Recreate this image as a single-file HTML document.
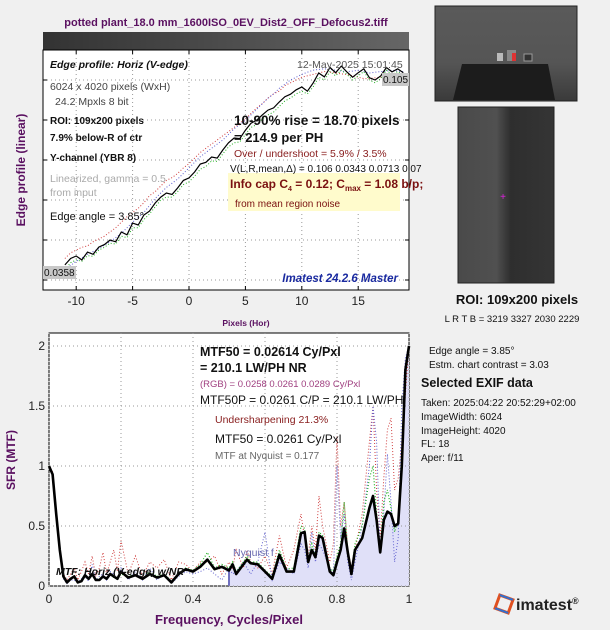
<!DOCTYPE html>
<html><head><meta charset="utf-8">
<style>
body{margin:0;background:#f0f0f0;width:610px;height:630px;overflow:hidden;font-family:"Liberation Sans",sans-serif;}
svg{position:absolute;left:0;top:0}
</style></head>
<body>
<svg id="s" width="610" height="630" xmlns="http://www.w3.org/2000/svg" font-family="Liberation Sans, sans-serif">
<defs>
<linearGradient id="gbar" x1="0" x2="1"><stop offset="0" stop-color="#333"/><stop offset="1" stop-color="#666"/></linearGradient>
<linearGradient id="groi" x1="0" x2="1"><stop offset="0" stop-color="#4a4a4a"/><stop offset="0.4" stop-color="#505050"/><stop offset="0.55" stop-color="#2e2e2e"/><stop offset="1" stop-color="#353535"/></linearGradient>
<linearGradient id="gimg" x1="0" y1="0" x2="0" y2="1"><stop offset="0" stop-color="#5a5a5a"/><stop offset="0.6" stop-color="#555"/><stop offset="1" stop-color="#3a3a3a"/></linearGradient>
</defs>
<text x="226" y="26" font-size="11" font-weight="bold" fill="#5a1060" text-anchor="middle">potted plant_18.0 mm_1600ISO_0EV_Dist2_OFF_Defocus2.tiff</text>
<rect x="43" y="32" width="366" height="18" fill="url(#gbar)"/>
<g id="p1"></g>
<g id="p2"></g>
<!-- right side -->
<rect x="435" y="6" width="142" height="95" fill="url(#gimg)" stroke="#222"/>
<path d="M462 64 L548 64 L555 100 L453 100 Z" fill="#1c1c1c"/>
<rect x="507" y="50" width="9" height="11" fill="#888"/><rect x="512" y="53" width="4" height="8" fill="#d33"/><rect x="497" y="53" width="6" height="8" fill="#bbb"/><rect x="524" y="54" width="8" height="7" fill="#333" stroke="#999"/>
<rect x="458" y="107" width="96" height="176" fill="url(#groi)" stroke="#222"/>
<text x="503" y="200" font-size="10" fill="#e020e0" text-anchor="middle">+</text>
<text x="517" y="304" font-size="13" font-weight="bold" fill="#111" text-anchor="middle">ROI:  109x200 pixels</text>
<text x="512" y="322" font-size="9.5" fill="#111" text-anchor="middle">L R  T B = 3219 3327  2030 2229</text>
<g font-size="10" fill="#111">
<text x="429" y="354">Edge angle = 3.85°</text>
<text x="429" y="368">Estm. chart contrast = 3.03</text>
<text x="421" y="387" font-size="12.5" font-weight="bold">Selected EXIF data</text>
<text x="421" y="406">Taken: 2025:04:22 20:52:29+02:00</text>
<text x="421" y="420">ImageWidth:  6024</text>
<text x="421" y="434">ImageHeight:  4020</text>
<text x="421" y="447">FL:    18</text>
<text x="421" y="461">Aper:  f/11</text>
</g>
<g>
<rect x="497" y="597" width="14" height="14" fill="none" stroke="#e05020" stroke-width="3" transform="rotate(20 504 604)"/>
<rect x="497" y="597" width="14" height="14" fill="none" stroke="#3070d0" stroke-width="2" stroke-dasharray="14 14" transform="rotate(20 504 604)"/>
<text x="516" y="610" font-size="16" font-weight="bold" fill="#222">imatest<tspan font-size="9" dy="-6">®</tspan></text>
</g>
</svg>
<script>
const NS='http://www.w3.org/2000/svg';
function mk(p,tag,a,txt){const e=document.createElementNS(NS,tag);for(const k in a)e.setAttribute(k,a[k]);if(txt!==undefined)e.textContent=txt;p.appendChild(e);return e;}

// ---- Edge profile data ----
const edgeX=[-11,-10.5,-10,-9.5,-9,-8.5,-8,-7.5,-7,-6.5,-6,-5.5,-5,-4.5,-4,-3.5,-3,-2.5,-2,-1.5,-1,-0.5,0,0.5,1,1.5,2,2.5,3,3.5,4,4.5,5,5.5,6,6.5,7,7.5,8,8.5,9,9.5,10,10.5,11,11.5,12,12.5,13,13.5,14,14.5,15,15.5,16,16.5,17,17.5,18,18.5,19];
const edgeY=[0.0387,0.0410,0.0419,0.0405,0.0433,0.0425,0.0451,0.0460,0.0476,0.0470,0.0505,0.0495,0.0537,0.0530,0.0566,0.0580,0.0609,0.0630,0.0645,0.0640,0.0663,0.0690,0.0699,0.0720,0.0749,0.0755,0.0774,0.0770,0.0799,0.0825,0.0842,0.0840,0.0870,0.0895,0.0906,0.0925,0.0942,0.0950,0.0971,0.0990,0.0999,0.1015,0.1025,0.1010,0.1039,0.1075,0.1061,0.1095,0.1076,0.1100,0.1079,0.1060,0.1076,0.1090,0.1058,0.1050,0.1065,0.1095,0.1079,0.1090,0.1076];
const edgeR=[0.0410,0.0430,0.0440,0.0450,0.0455,0.0470,0.0480,0.0490,0.0505,0.0520,0.0540,0.0560,0.0575,0.0590,0.0610,0.0635,0.0650,0.0670,0.0690,0.0700,0.0715,0.0735,0.0750,0.0770,0.0790,0.0805,0.0820,0.0835,0.0850,0.0865,0.0880,0.0895,0.0910,0.0930,0.0950,0.0965,0.0985,0.1000,0.1010,0.1030,0.1040,0.1050,0.1060,0.1065,0.1070,0.1075,0.1080,0.1078,0.1075,0.1072,0.1070,0.1065,0.1060,0.1055,0.1055,0.1058,0.1060,0.1062,0.1065,0.1068,0.1070];
const edgeB=[0.0370,0.0385,0.0400,0.0412,0.0425,0.0435,0.0445,0.0458,0.0470,0.0485,0.0500,0.0520,0.0540,0.0558,0.0575,0.0600,0.0625,0.0645,0.0665,0.0680,0.0695,0.0715,0.0735,0.0755,0.0775,0.0790,0.0805,0.0820,0.0835,0.0855,0.0875,0.0890,0.0905,0.0925,0.0945,0.0965,0.0985,0.1000,0.1020,0.1035,0.1050,0.1060,0.1070,0.1078,0.1085,0.1088,0.1090,0.1088,0.1085,0.1082,0.1080,0.1082,0.1085,0.1080,0.1075,0.1078,0.1080,0.1082,0.1085,0.1082,0.1080];
const edgeG=[0.0370,0.0395,0.0405,0.0400,0.0420,0.0418,0.0440,0.0450,0.0465,0.0462,0.0490,0.0485,0.0520,0.0520,0.0550,0.0570,0.0595,0.0620,0.0630,0.0630,0.0650,0.0675,0.0685,0.0705,0.0730,0.0740,0.0760,0.0758,0.0785,0.0810,0.0825,0.0828,0.0855,0.0880,0.0890,0.0910,0.0925,0.0935,0.0955,0.0975,0.0985,0.1000,0.1010,0.1000,0.1025,0.1060,0.1050,0.1080,0.1065,0.1085,0.1070,0.1050,0.1065,0.1080,0.1050,0.1040,0.1055,0.1085,0.1070,0.1080,0.1068];
const edgeTicks=[-10,-5,0,5,10,15];

// ---- MTF data ----
const mtfF=[0,0.01,0.02,0.03,0.04,0.05,0.06,0.07,0.08,0.09,0.10,0.11,0.12,0.13,0.14,0.15,0.16,0.17,0.18,0.19,0.20,0.22,0.24,0.26,0.28,0.30,0.32,0.34,0.36,0.38,0.40,0.42,0.44,0.46,0.48,0.50,0.51,0.52,0.54,0.55,0.56,0.58,0.60,0.62,0.64,0.66,0.68,0.70,0.71,0.72,0.73,0.74,0.75,0.76,0.78,0.79,0.80,0.81,0.82,0.83,0.84,0.85,0.87,0.89,0.90,0.91,0.92,0.93,0.94,0.95,0.96,0.97,0.98,0.99,1.0];
const mtfY=[1.0,0.93,0.6,0.3,0.08,0.03,0.06,0.08,0.03,0.04,0.09,0.06,0.1,0.05,0.05,0.08,0.06,0.1,0.08,0.06,0.12,0.07,0.09,0.06,0.1,0.07,0.09,0.03,0.1,0.14,0.12,0.16,0.22,0.14,0.16,0.13,0.18,0.1,0.18,0.22,0.19,0.18,0.12,0.06,0.26,0.12,0.12,0.44,0.45,0.2,0.3,0.24,0.42,0.4,0.12,0.09,0.2,0.3,0.48,0.28,0.1,0.3,0.4,0.65,0.75,0.55,0.28,0.55,0.62,0.6,0.5,0.52,1.0,1.8,2.0];
const mtfR=[1.0,0.95,0.62,0.3,0.1,0.05,0.1,0.15,0.05,0.12,0.2,0.1,0.25,0.08,0.15,0.28,0.1,0.2,0.3,0.12,0.38,0.1,0.25,0.08,0.2,0.15,0.22,0.05,0.2,0.18,0.12,0.2,0.2,0.25,0.1,0.2,0.15,0.3,0.15,0.3,0.2,0.15,0.25,0.1,0.42,0.15,0.3,0.6,0.4,0.25,0.5,0.3,0.75,0.5,0.2,0.35,1.25,0.5,0.7,0.3,0.15,0.3,0.6,1.2,1.5,0.8,0.4,0.9,1.3,1.4,0.8,0.9,1.2,1.6,2.0];
const mtfB=[1.0,0.92,0.58,0.28,0.06,0.02,0.05,0.05,0.03,0.06,0.08,0.04,0.18,0.05,0.08,0.1,0.05,0.12,0.1,0.05,0.15,0.05,0.12,0.05,0.15,0.05,0.1,0.02,0.08,0.12,0.1,0.12,0.15,0.1,0.05,0.15,0.1,0.12,0.2,0.15,0.1,0.2,0.45,0.05,0.2,0.15,0.1,0.35,0.3,0.15,0.45,0.2,0.35,0.3,0.15,0.1,1.0,0.4,0.6,0.2,0.05,0.2,0.5,1.0,1.5,1.2,0.3,0.6,1.1,0.7,0.2,0.4,1.5,1.9,2.0];
const mtfG=[1.0,0.93,0.6,0.3,0.07,0.03,0.06,0.07,0.03,0.05,0.08,0.06,0.1,0.05,0.06,0.08,0.06,0.1,0.07,0.06,0.1,0.08,0.1,0.06,0.12,0.08,0.1,0.04,0.1,0.15,0.13,0.18,0.28,0.15,0.18,0.15,0.2,0.12,0.2,0.25,0.2,0.2,0.13,0.08,0.3,0.14,0.15,0.5,0.48,0.22,0.35,0.25,0.45,0.42,0.15,0.12,0.25,0.35,0.7,0.3,0.12,0.35,0.5,0.9,1.0,0.6,0.3,0.7,0.8,0.65,0.45,0.55,1.1,1.8,2.0];
const mtfXTicks=[0,0.2,0.4,0.6,0.8,1];
const mtfXLabels=['0','0.2','0.4','0.6','0.8','1'];
const mtfYTicks=[0,0.5,1,1.5,2];
const mtfYLabels=['0','0.5','1','1.5','2'];

// ---- Edge plot ----
const p1=document.getElementById('p1');
const L1=43,R1=409,T1=50,B1=290;
const ex=v=>189+v*11.28;
const ey=v=>273-(v-0.0358)*2789;
mk(p1,'rect',{x:L1,y:T1,width:R1-L1,height:B1-T1,fill:'#fff',stroke:'#000'});
edgeTicks.forEach(t=>{mk(p1,'line',{x1:ex(t),x2:ex(t),y1:T1,y2:B1,stroke:'#999','stroke-dasharray':'1 3'});
 mk(p1,'line',{x1:ex(t),x2:ex(t),y1:B1,y2:B1-4,stroke:'#000'});mk(p1,'line',{x1:ex(t),x2:ex(t),y1:T1,y2:T1+4,stroke:'#000'});
 const tl=mk(p1,'text',{x:ex(t),y:B1+15,'font-size':12,fill:'#222','text-anchor':'middle'},String(t));
 });
[80,120,160,200,240,280].forEach(y=>{mk(p1,'line',{x1:L1,x2:R1,y1:y,y2:y,stroke:'#999','stroke-dasharray':'1 3'});
 mk(p1,'line',{x1:L1,x2:L1+4,y1:y,y2:y,stroke:'#000'});mk(p1,'line',{x1:R1,x2:R1-4,y1:y,y2:y,stroke:'#000'});});
function line(p,xs,ys,fx,fy,st){const d=xs.map((x,i)=>(i?'L':'M')+fx(x).toFixed(1)+' '+fy(ys[i]).toFixed(1)).join(' ');return mk(p,'path',Object.assign({d:d,fill:'none'},st));}
let s;
s=line(p1,edgeX,edgeR,ex,ey,{stroke:'#d04040','stroke-width':1,'stroke-dasharray':'1 2'});
s=line(p1,edgeX,edgeB,ex,ey,{stroke:'#6060d0','stroke-width':1,'stroke-dasharray':'1 2'});
s=line(p1,edgeX,edgeG,ex,ey,{stroke:'#20b020','stroke-width':1,'stroke-dasharray':'1 2'});
s=line(p1,edgeX,edgeY,ex,ey,{stroke:'#000','stroke-width':1.2});
mk(p1,'rect',{x:43,y:266,width:33,height:13,fill:'#c8c8c8'});
mk(p1,'text',{x:44,y:276,'font-size':10,fill:'#111'},'0.0358');
mk(p1,'rect',{x:382,y:73,width:27,height:13,fill:'#c8c8c8'});
mk(p1,'text',{x:383,y:83,'font-size':10,fill:'#111'},'0.105');
const t1=[[50,68,'Edge profile: Horiz (V-edge)',{'font-weight':'bold','font-style':'italic','font-size':10.5}],
[50,90,'6024 x 4020 pixels (WxH)',{fill:'#444','font-size':10.5}],[55,105,'24.2 Mpxls   8 bit',{fill:'#444','font-size':10.5}],
[50,124,'ROI:  109x200 pixels',{'font-weight':'bold'}],[50,141,'7.9% below-R of ctr',{'font-weight':'bold'}],
[50,161,'Y-channel  (YBR 8)',{'font-weight':'bold'}],[50,182,'Linearized, gamma = 0.5',{fill:'#aaa','font-size':10.5}],[50,196,'from input',{fill:'#aaa','font-size':10.5}],
[50,220,'Edge angle = 3.85°',{fill:'#111','font-size':11}],[297,68,'12-May-2025 15:01:45',{fill:'#555','font-size':10.5}]];
t1.forEach(a=>mk(p1,'text',Object.assign({x:a[0],y:a[1],'font-size':10,fill:'#111'},a[3]),a[2]));
mk(p1,'rect',{x:228,y:173,width:172,height:38,fill:'#fffbcc'});
mk(p1,'text',{x:234,y:125,'font-size':13.5,'font-weight':'bold',fill:'#111'},'10-90% rise = 18.70 pixels');
mk(p1,'text',{x:234,y:142,'font-size':13,'font-weight':'bold',fill:'#111'},'= 214.9 per PH');
mk(p1,'text',{x:234,y:157,'font-size':10.5,fill:'#8a2020'},'Over / undershoot =  5.9% /  3.5%');
mk(p1,'text',{x:230,y:172,'font-size':10,fill:'#111'},'V(L,R,mean,Δ) = 0.106  0.0343  0.0713  0.07');
const ic=mk(p1,'text',{x:230,y:188,'font-size':12,'font-weight':'bold',fill:'#7a1010'});ic.innerHTML='Info cap C<tspan font-size="7" dy="3">4</tspan><tspan dy="-3"> = 0.12;  C</tspan><tspan font-size="8" dy="3">max</tspan><tspan dy="-3"> = 1.08 b/p;</tspan>';
mk(p1,'text',{x:235,y:207,'font-size':10,fill:'#7a1010'},'from mean region noise');
mk(p1,'text',{x:398,y:282,'font-size':11.5,'font-weight':'bold','font-style':'italic',fill:'#1a2aa0','text-anchor':'end'},'Imatest 24.2.6 Master');
mk(p1,'text',{x:246,y:326,'font-size':8.5,'font-weight':'bold',fill:'#5a1060','text-anchor':'middle'},'Pixels (Hor)');
mk(p1,'text',{x:0,y:0,'font-size':12,'font-weight':'bold',fill:'#5a1060','text-anchor':'middle',transform:'translate(25 170) rotate(-90)'},'Edge profile (linear)');

// ---- MTF plot ----
const p2=document.getElementById('p2');
const L2=49,R2=409,T2=333,B2=586;
const fx=v=>L2+v*360, fy=v=>B2-v*120;
mk(p2,'rect',{x:L2,y:T2,width:R2-L2,height:B2-T2,fill:'#fff',stroke:'#000'});
let d='M'+fx(0.5)+' '+B2;mtfF.forEach((f,i)=>{if(f>=0.5)d+=' L'+fx(f).toFixed(1)+' '+fy(mtfY[i]).toFixed(1);});d+=' L'+fx(1)+' '+B2+'Z';
s=mk(p2,'path',{d:d,fill:'#e0e0f8'});
mk(p2,'line',{x1:fx(0.5),x2:fx(0.5),y1:B2,y2:fy(0.13),stroke:'#7070c0','stroke-width':2});
mtfXTicks.forEach((t,i)=>{mk(p2,'line',{x1:fx(t),x2:fx(t),y1:T2,y2:B2,stroke:'#999','stroke-dasharray':'1 3'});
 const tl=mk(p2,'text',{x:fx(t),y:B2+17,'font-size':12,fill:'#222','text-anchor':'middle'},mtfXLabels[i]);
 });
mtfYTicks.forEach((t,i)=>{mk(p2,'line',{x1:L2,x2:R2,y1:fy(t),y2:fy(t),stroke:'#999','stroke-dasharray':'1 3'});
 const tl=mk(p2,'text',{x:L2-4,y:fy(t)+4,'font-size':12,fill:'#222','text-anchor':'end'},mtfYLabels[i]);
 });
s=line(p2,mtfF,mtfR,fx,fy,{stroke:'#d04040','stroke-width':1,'stroke-dasharray':'1 2'});
s=line(p2,mtfF,mtfB,fx,fy,{stroke:'#6060d0','stroke-width':1,'stroke-dasharray':'1 2'});
s=line(p2,mtfF,mtfG,fx,fy,{stroke:'#20b020','stroke-width':1.2,'stroke-dasharray':'1 2'});
s=line(p2,mtfF,mtfY,fx,fy,{stroke:'#000','stroke-width':2.6,'stroke-linejoin':'round'});
mk(p2,'text',{x:233,y:556,'font-size':10.5,fill:'#6a6ab0'},'Nyquist f');
mk(p2,'text',{x:56,y:575,'font-size':10.5,'font-weight':'bold','font-style':'italic',fill:'#111'},'MTF: Horiz (V-edge) w/NR');
mk(p2,'text',{x:200,y:356,'font-size':12.5,'font-weight':'bold',fill:'#111'},'MTF50 = 0.02614 Cy/Pxl');
mk(p2,'text',{x:200,y:372,'font-size':12.5,'font-weight':'bold',fill:'#111'},'= 210.1 LW/PH  NR');
mk(p2,'text',{x:200,y:387,'font-size':9.5,fill:'#a04080'},'(RGB) = 0.0258  0.0261  0.0289 Cy/Pxl');
mk(p2,'text',{x:200,y:404,'font-size':12,fill:'#111'},'MTF50P = 0.0261 C/P = 210.1 LW/PH');
mk(p2,'text',{x:215,y:423,'font-size':10.5,fill:'#8a2020'},'Undersharpening 21.3%');
mk(p2,'text',{x:215,y:443,'font-size':12,fill:'#111'},'MTF50 = 0.0261 Cy/Pxl');
mk(p2,'text',{x:215,y:459,'font-size':10,fill:'#666'},'MTF at Nyquist = 0.177');
mk(p2,'text',{x:229,y:624,'font-size':13,'font-weight':'bold',fill:'#5a1060','text-anchor':'middle'},'Frequency, Cycles/Pixel');
mk(p2,'text',{x:0,y:0,'font-size':12,'font-weight':'bold',fill:'#5a1060','text-anchor':'middle',transform:'translate(15 460) rotate(-90)'},'SFR (MTF)');
</script>
</body></html>
